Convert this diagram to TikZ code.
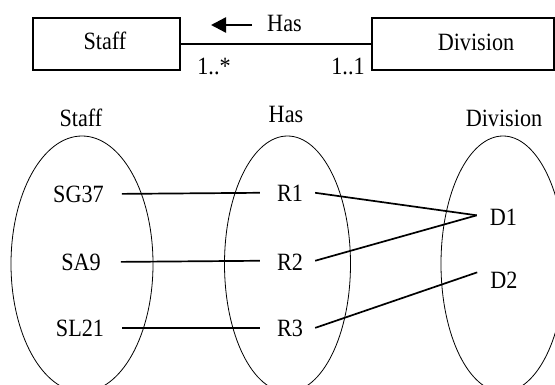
\documentclass[tikz,border=0pt]{standalone}
\usepackage{graphicx}
\usepackage{fontspec}
\setmainfont{Liberation Serif}
\usetikzlibrary{arrows.meta,shapes.geometric}
\newcommand{\tallText}[1]{\scalebox{1}[1.12]{#1}}
\begin{document}
\begin{tikzpicture}[x=1pt,y=-1pt,
  every node/.style={font=\fontsize{22.2}{27}\selectfont, inner sep=0pt},
  txt/.style={anchor=base},
  umlbox/.style={draw, line width=2pt, minimum height=52.3pt},
  assoc/.style={line width=2pt},
  link/.style={line width=1.7pt},
  setshape/.style={draw, ellipse, line width=0.8pt, minimum width=#1},
  setshape/.default=130pt
  ]
\useasboundingbox (0,0) rectangle (555,385);
\clip (0,0) rectangle (555,385);

% ---- top: UML association ----
\node[umlbox, minimum width=147pt] (staffbox) at (106,43.85) {};
\node[umlbox, minimum width=182pt] (divbox) at (463,43.85) {};
\node[txt] (stafftxt) at (105,50) {\tallText{Staff}};
\node[txt] (divtxt) at (476,51) {\tallText{Division}};
\draw[assoc] (staffbox.east) -- (divbox.west);
\coordinate (arrS) at (252,25);
\coordinate (arrE) at (211,25);
\draw[line width=2.4pt, -{Triangle[length=15pt,width=15pt]}] (arrS) -- (arrE);
\node[txt] (hastop) at (284.5,32) {\tallText{Has}};
\node[txt] (multL) at (214,75) {\tallText{1..*}};
\node[txt] (multR) at (348,75) {\tallText{1..1}};

% ---- bottom: sets ----
\node[txt] (stafflab) at (81,127) {\tallText{Staff}};
\node[txt] (haslab) at (286,123) {\tallText{Has}};
\node[txt] (divlab) at (504,127) {\tallText{Division}};

\node[setshape=142pt, minimum height=256pt] (staffset) at (82,264) {};
\node[setshape=126pt, minimum height=256pt] (hasset) at (287.5,264) {};
\node[setshape=124pt, minimum height=256pt] (divset) at (503,264) {};

\node[txt] (sg37) at (78.5,203) {\tallText{SG37}};
\node[txt] (sa9) at (81,271) {\tallText{SA9}};
\node[txt] (sl21) at (80,337) {\tallText{SL21}};
\node[txt] (r1) at (290,202) {\tallText{R1}};
\node[txt] (r2) at (290,270) {\tallText{R2}};
\node[txt] (r3) at (290,337) {\tallText{R3}};
\node[txt] (d1) at (503.5,225.5) {\tallText{D1}};
\node[txt] (d2) at (504,289) {\tallText{D2}};

\draw[link] ([xshift=18pt,yshift=1pt]sg37.east) -- ([xshift=-17pt,yshift=1pt]r1.west);
\draw[link] ([xshift=20pt,yshift=1pt]sa9.east) -- ([xshift=-17pt,yshift=1pt]r2.west);
\draw[link] ([xshift=18pt,yshift=1pt]sl21.east) -- ([xshift=-17pt,yshift=1pt]r3.west);

\coordinate (d1p) at ([xshift=-13pt,yshift=2pt]d1.west);
\coordinate (d2p) at ([xshift=-13pt]d2.north west);
\draw[link] ([xshift=12pt,yshift=1pt]r1.east) -- (d1p);
\draw[link] ([xshift=12pt,yshift=1pt]r2.east) -- (d1p);
\draw[link] ([xshift=12pt,yshift=1pt]r3.east) -- (d2p);
\end{tikzpicture}
\end{document}
